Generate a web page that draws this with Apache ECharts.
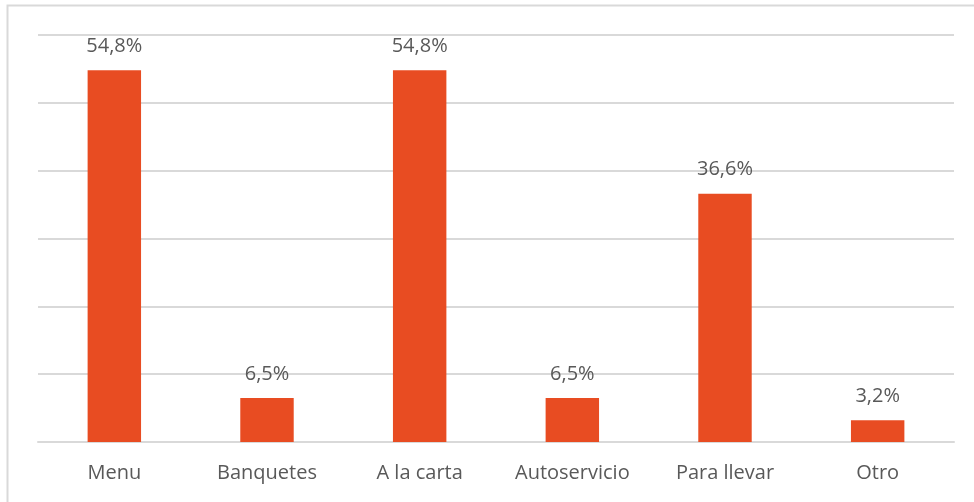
<!DOCTYPE html>
<html><head><meta charset="utf-8">
<script src="https://cdn.jsdelivr.net/npm/echarts@6/dist/echarts.min.js"></script>
<style>html,body{margin:0;padding:0;background:#fff}#c{width:974px;height:502px}</style>
</head><body><div id="c"></div>
<script>
const categories = ["Menu", "Banquetes", "A la carta", "Autoservicio", "Para llevar", "Otro"];
const values = [54.8, 6.5, 54.8, 6.5, 36.6, 3.2];

const chart = echarts.init(document.getElementById('c'), null, {renderer: 'canvas'});
const font = '"Open Sans", "Noto Sans", sans-serif';
chart.setOption({
  animation: false,
  graphic: [{
    type: 'rect', shape: {x: 7.5, y: 5.5, width: 980, height: 520},
    style: {fill: 'none', stroke: '#d9d9d9', lineWidth: 2}, silent: true
  }],
  grid: {left: 38, right: 20, top: 35, bottom: 60, containLabel: false},
  xAxis: {
    type: 'category', data: categories,
    axisLine: {lineStyle: {color: '#d9d9d9', width: 2}},
    axisTick: {show: false},
    axisLabel: {color: '#595959', fontSize: 20, fontFamily: font, margin: 21}
  },
  yAxis: {
    type: 'value', min: 0, max: 60, interval: 10,
    axisLabel: {show: false}, axisLine: {show: false}, axisTick: {show: false},
    splitLine: {lineStyle: {color: '#d9d9d9', width: 2}}
  },
  series: [{
    type: 'bar', data: values, barWidth: '35%',
    itemStyle: {color: '#E84C22'},
    label: {show: true, position: 'top', distance: 14, color: '#595959', fontSize: 20, fontFamily: font,
      formatter: p => p.value.toFixed(1).replace('.', ',') + '%'}
  }]
});
</script></body></html>
